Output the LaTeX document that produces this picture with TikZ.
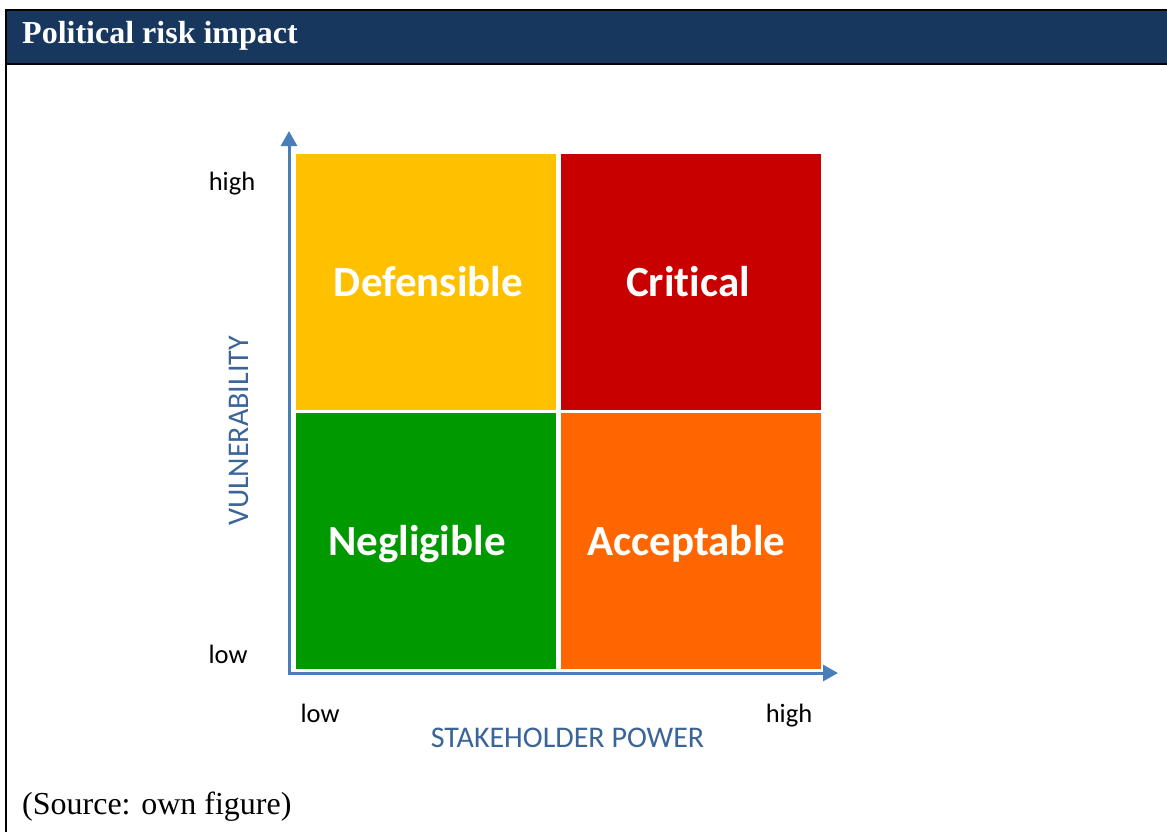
\documentclass[tikz,border=0pt]{standalone}
\usepackage{fontspec}
\setmainfont{Liberation Serif}
\newfontfamily\calibri[Ligatures=NoCommon]{Carlito}
\usetikzlibrary{arrows.meta}
\definecolor{bandeau}{HTML}{17375E}
\definecolor{axe}{HTML}{4A7EBB}
\definecolor{axetexte}{HTML}{3B6499}
\definecolor{jaune}{HTML}{FFC000}
\definecolor{rouge}{HTML}{C80000}
\definecolor{vert}{HTML}{009A00}
\definecolor{orangefort}{HTML}{FF6600}

\begin{document}
\begin{tikzpicture}[x=1pt,y=-1pt,
    case/.style={anchor=north west,inner sep=0pt,minimum width=259.5pt,minimum height=255.5pt},
    etiquette/.style={inner sep=0pt,text=white,text height=27pt,text depth=0pt,
      font=\calibri\bfseries\fontsize{43}{50}\selectfont},
    graduation/.style={inner sep=0pt,anchor=base,font=\calibri\fontsize{26.5}{30}\selectfont},
    titreaxe/.style={inner sep=0pt,anchor=base,text=axetexte,font=\calibri\fontsize{30}{36}\selectfont},
    pointe/.tip={Triangle[length=15pt,width=16pt]}]
  \useasboundingbox (0,0) rectangle (1167,831);
  \fill[white] (0,0) rectangle (1167,831);
  \clip (0,0) rectangle (1167,831);

  \fill[bandeau] (6,10) rectangle (1180,64); % le bandeau
  \draw[line width=2pt] (1180,10) -- (6,10) -- (6,840) (6,64) -- (1180,64); % le cadre
  \node[anchor=base west,inner sep=0pt,text=white,font=\bfseries\fontsize{32}{38}\selectfont]
      (titre) at (22,43) {Political risk impact};

  % les quatre cases
  \node[case,fill=jaune] (defensible) at (296,154) {};
  \node[case,fill=rouge] (critical) at (561,154) {};
  \node[case,fill=vert] (negligible) at (296,413) {};
  \node[case,fill=orangefort] (acceptable) at (561,413) {};
  \node[etiquette,xshift=2.5pt,yshift=-1pt] (tdefensible) at (defensible) {Defensible};
  \node[etiquette,xshift=-3pt,yshift=-1pt] (tcritical) at (critical) {Critical};
  \node[etiquette,xshift=-9pt,yshift=-1pt] (tnegligible) at (negligible) {Negligible};
  \node[etiquette,xshift=-4.5pt,yshift=-1pt] (tacceptable) at (acceptable) {Acceptable};

  % les axes
  \coordinate (origine) at (289,673);
  \coordinate (haut) at (289,131);
  \coordinate (droite) at (838,673);
  \draw[axe,line width=3pt,pointe-pointe] (haut) -- (origine) -- (droite);

  \node[graduation] (yhaut) at (232,190) {high};
  \node[graduation] (ybas) at (228,663) {low};
  \node[graduation] (xbas) at (320,722) {low};
  \node[graduation] (xhaut) at (789,722) {high};
  \node[titreaxe] (puissance) at (567.5,747.5) {STAKEHOLDER POWER};
  \node[titreaxe,rotate=90] (vulnerabilite) at (248,431) {VULNERABILITY};

  \node[anchor=base west,inner sep=0pt,font=\fontsize{32}{38}\selectfont]
      (source) at (22,814) {(Source: own figure)};
\end{tikzpicture}
\end{document}
